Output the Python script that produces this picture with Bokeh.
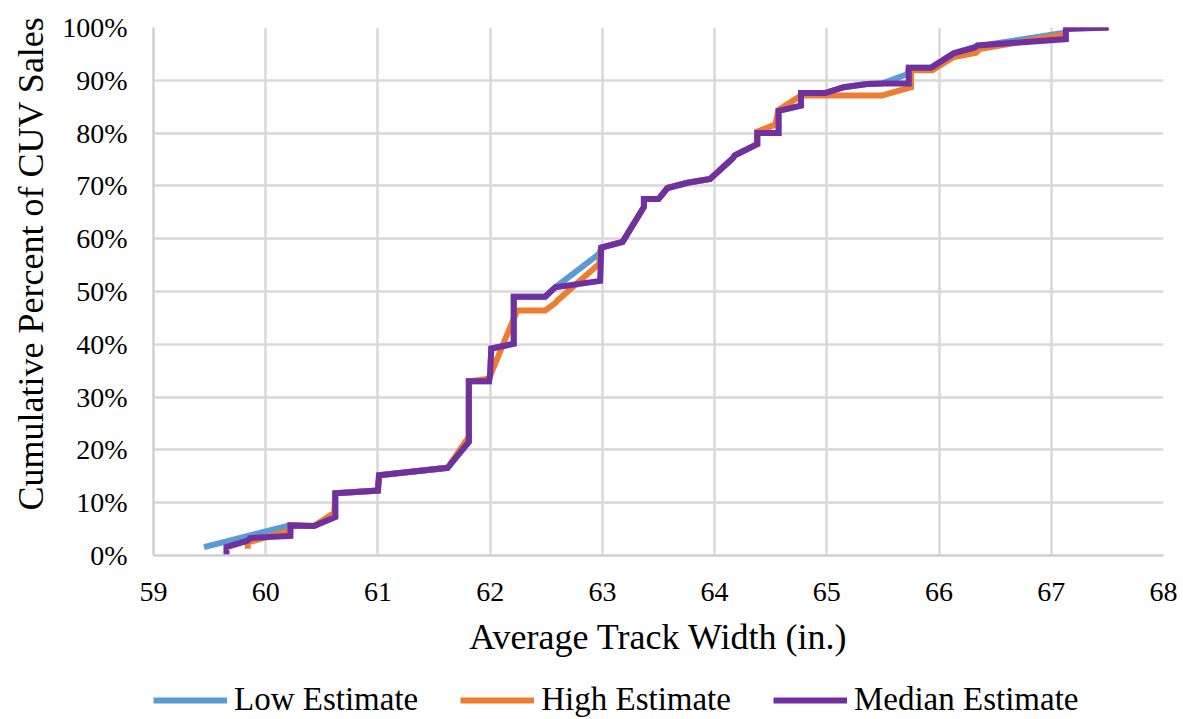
from bokeh.plotting import figure
from bokeh.layouts import column
from bokeh.models import Range1d, FixedTicker, PrintfTickFormatter, Legend, LegendItem, Title
from bokeh.embed import file_html
from bokeh.resources import INLINE

# ---------------- data ----------------
x_ticks = [59, 60, 61, 62, 63, 64, 65, 66, 67, 68]
y_ticks = [0, 10, 20, 30, 40, 50, 60, 70, 80, 90, 100]

low_x = [59.45, 60.21, 60.43, 60.62, 60.62, 61.00, 61.01, 61.62, 61.81, 61.81, 61.99, 62.00,
         62.01, 62.21, 62.21, 62.49, 62.58, 62.97, 62.99, 63.18, 63.37, 63.37, 63.50, 63.58,
         63.76, 63.96, 64.16, 64.18, 64.38, 64.38, 64.57, 64.57, 64.77, 64.77, 64.99, 65.15,
         65.36, 65.49, 65.72, 65.73, 65.93, 66.13, 66.33, 67.12, 67.14, 67.51]
low_y = [1.6, 5.7, 5.6, 7.3, 11.8, 12.3, 15.2, 16.6, 21.5, 33.0, 33.0, 34.5,
         39.2, 40.1, 49.0, 49.0, 50.8, 57.1, 58.3, 59.4, 66.0, 67.5, 67.5, 69.6,
         70.6, 71.3, 75.2, 75.8, 77.9, 80.0, 80.0, 84.2, 85.2, 87.6, 87.6, 88.7,
         89.3, 89.4, 91.2, 92.4, 92.4, 95.1, 96.4, 99.0, 99.9, 100.0]

high_x = [59.84, 59.84, 60.22, 60.22, 60.43, 60.61, 60.62, 61.00, 61.01, 61.62, 61.81, 61.81,
          61.99, 62.24, 62.49, 62.58, 62.60, 62.97, 62.99, 63.18, 63.37, 63.37, 63.50, 63.58,
          63.76, 63.96, 64.16, 64.18, 64.38, 64.38, 64.54, 64.57, 64.77, 65.49, 65.75, 65.75,
          65.94, 66.13, 66.33, 66.36, 67.12, 67.14, 67.51]
high_y = [1.3, 2.5, 4.7, 5.7, 5.6, 8.1, 11.8, 12.3, 15.2, 16.6, 22.5, 33.0,
          33.5, 46.4, 46.4, 47.8, 48.3, 55.2, 58.3, 59.4, 66.0, 67.5, 67.5, 69.6,
          70.6, 71.3, 75.2, 75.8, 77.9, 80.3, 81.6, 84.4, 87.1, 87.1, 88.7, 91.9,
          91.9, 94.4, 95.2, 95.9, 98.7, 99.9, 100.0]

median_x = [59.65, 59.65, 59.84, 59.86, 60.22, 60.22, 60.43, 60.62, 60.62, 61.00, 61.01, 61.62,
            61.81, 61.81, 61.99, 62.00, 62.01, 62.21, 62.21, 62.49, 62.58, 62.98, 62.99, 63.18,
            63.37, 63.37, 63.50, 63.58, 63.76, 63.96, 64.16, 64.18, 64.38, 64.38, 64.57, 64.57,
            64.77, 64.77, 64.99, 65.15, 65.36, 65.49, 65.73, 65.73, 65.93, 66.13, 66.32, 66.34,
            67.13, 67.13, 67.51]
median_y = [0.0, 1.6, 2.8, 3.3, 3.7, 5.7, 5.6, 7.3, 11.8, 12.3, 15.2, 16.6,
            21.5, 33.0, 33.0, 34.5, 39.2, 40.1, 49.0, 49.0, 50.8, 52.0, 58.3, 59.4,
            66.0, 67.5, 67.5, 69.6, 70.6, 71.3, 75.2, 75.8, 77.9, 80.0, 80.0, 84.2,
            85.2, 87.6, 87.6, 88.7, 89.3, 89.4, 89.4, 92.4, 92.4, 95.1, 96.2, 96.6,
            97.8, 99.7, 100.0]

series_names = ["Low Estimate", "High Estimate", "Median Estimate"]
colors = ["#5b9bd5", "#ed7d31", "#7030a0"]
x_title = "Average Track Width (in.)"
y_title = "Cumulative  Percent of CUV  Sales"

FONT = "Liberation Serif"
LW = 6
W = 1183

p = figure(width=W, height=666, output_backend="svg", toolbar_location=None,
           x_range=Range1d(59, 68), y_range=Range1d(0, 100),
           min_border_left=153, min_border_right=20, min_border_top=27, min_border_bottom=111)
p.outline_line_color = None
p.background_fill_color = "white"
p.border_fill_color = "white"

series = list(zip([low_x, high_x, median_x], [low_y, high_y, median_y], colors))
for xs, ys, c in series:
    p.line(xs, ys, line_color=c, line_width=LW, line_join="miter")

# axes
p.xaxis.ticker = FixedTicker(ticks=x_ticks)
p.yaxis.ticker = FixedTicker(ticks=y_ticks)
p.yaxis.formatter = PrintfTickFormatter(format="%d%%")
for ax in (p.xaxis[0], p.yaxis[0]):
    ax.axis_line_color = "#d0d0d0"
    ax.axis_line_width = 2.5
    ax.major_tick_line_color = None
    ax.minor_tick_line_color = None
    ax.major_label_text_font = FONT
    ax.major_label_text_font_size = "28px"
    ax.major_label_text_color = "black"
    ax.axis_label_text_font = FONT
    ax.axis_label_text_font_size = "36px"
    ax.axis_label_text_font_style = "normal"
    ax.axis_label_text_color = "black"
p.xaxis.major_label_standoff = 21
p.yaxis.major_label_standoff = 20
p.xaxis.axis_label = x_title
p.xaxis.axis_label_standoff = 13

ytitle = Title(text=y_title, align="right", offset=-29, standoff=17,
               text_font=FONT, text_font_size="36px", text_font_style="normal",
               text_color="black")
p.add_layout(ytitle, "left")

p.xgrid.grid_line_color = "#d9d9d9"
p.ygrid.grid_line_color = "#d9d9d9"
p.xgrid.grid_line_width = 2.5
p.ygrid.grid_line_width = 2.5

# legend strip below the chart (series drawn off-screen so only the legend shows)
q = figure(width=W, height=53, output_backend="svg", toolbar_location=None,
           x_range=Range1d(0, 1), y_range=Range1d(0, 1),
           x_axis_location=None, y_axis_location=None,
           min_border_left=0, min_border_right=0, min_border_top=0, min_border_bottom=0)
q.grid.visible = False
q.outline_line_color = None
q.border_fill_color = "white"
q.background_fill_color = "white"
items = []
for (xs, ys, c), n in zip(series, series_names):
    r = q.line(xs, ys, line_color=c, line_width=LW)
    items.append(LegendItem(label=n, renderers=[r]))
legend = Legend(items=items, orientation="horizontal", location=(0, 1),
                label_text_font=FONT, label_text_font_size="33px", label_text_color="black",
                glyph_width=74, glyph_height=20, label_standoff=7, spacing=42,
                padding=0, margin=0, border_line_color=None, background_fill_alpha=0)
q.add_layout(legend, "center")

layout = column(p, q, spacing=0)
open("out.html", "w").write(file_html(layout, INLINE))
